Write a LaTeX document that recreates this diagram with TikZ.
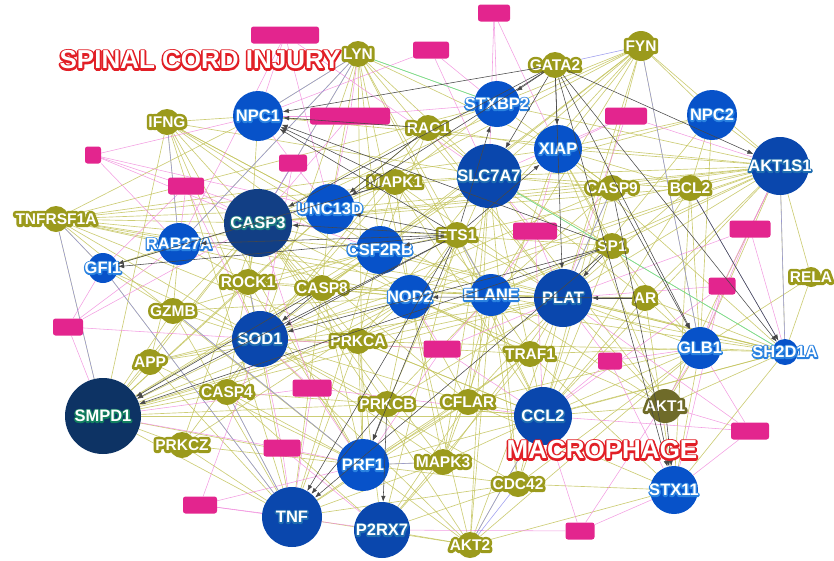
\documentclass[tikz,border=0pt]{standalone}
\usepackage{fontspec}
\setmainfont{Liberation Sans}
\usepackage{tikz}
\usetikzlibrary{arrows.meta}
\pgfdeclarelayer{edges}
\pgfsetlayers{edges,main}

\definecolor{gblue}{HTML}{0752C9}
\definecolor{gmid}{HTML}{0A47AD}
\definecolor{gnavy}{HTML}{123F85}
\definecolor{gdeep}{HTML}{0D3364}
\definecolor{hblue}{HTML}{2A82E0}
\definecolor{hmid}{HTML}{1F6DB0}
\definecolor{hteal}{HTML}{1C7A80}
\definecolor{hgreen}{HTML}{128060}
\definecolor{olv}{HTML}{9B9A1C}
\definecolor{olvdark}{HTML}{6F6B29}
\definecolor{tpink}{HTML}{E3258E}
\definecolor{labred}{HTML}{E11F26}
\definecolor{oline}{HTML}{C4C45E}
\definecolor{pline}{HTML}{F08CDC}
\definecolor{bline}{HTML}{8C8CEB}
\definecolor{gline}{HTML}{6CE39A}
\definecolor{aline}{HTML}{474747}

\newcommand\outl[3]{\makebox[0pt]{\rlap{\special{pdf:code q 2 Tr #1 w 1 j}\textcolor{#2}{#3}\special{pdf:code Q}}\textcolor{white}{#3}}}
\newcommand\glab[2][hblue]{\outl{2.8}{#1}{#2}}
\newcommand\dlab[2][olv]{\outl{5.5}{#1}{#2}}
\newcommand\redlab[1]{\outl{3.6}{labred}{#1}}
\newcommand\genefont{\fontsize{16.5}{18}\selectfont\bfseries}
\newcommand\drugfont{\fontsize{15.5}{17}\selectfont\bfseries}
\newcommand\tagfont{\fontsize{26}{28}\selectfont\bfseries}

\tikzset{
  gene/.style={circle, inner sep=0pt, minimum size=#1, fill=gblue, text=white, font=\genefont},
  drug/.style={circle, inner sep=0pt, minimum size=#1, fill=olv, text=white, font=\drugfont},
  drug/.default=26pt,
  term/.style={rectangle, rounded corners=2.5pt, inner sep=0pt, minimum height=17pt, minimum width=#1, fill=tpink},
  coexp/.style={draw=oline, opacity=.85, line width=.65pt},
  termlink/.style={draw=pline, opacity=.85, line width=.55pt},
  ppi/.style={draw=bline, opacity=.85, line width=.55pt},
  pathw/.style={draw=gline, line width=.6pt},
  regul/.style={draw=aline, line width=.55pt, -{Latex[length=6pt,width=4.5pt]}}
}

\begin{document}
\begin{tikzpicture}[x=1pt,y=-1pt]
\useasboundingbox (0,0) rectangle (834,560);

\node[gene=50pt] (npc1) at (258,116) {\glab{NPC1}};
\node[gene=46pt] (stxbp2) at (497,104) {\glab{STXBP2}};
\node[gene=48pt] (xiap) at (558,149) {\glab{XIAP}};
\node[gene=50pt] (npc2) at (712,115) {\glab{NPC2}};
\node[gene=58pt, fill=gmid] (akts) at (780,166) {\glab[hmid]{AKT1S1}};
\node[gene=64pt, fill=gmid] (slc) at (489,176) {\glab[hmid]{SLC7A7}};
\node[gene=50pt] (unc) at (330,209) {\glab{UNC13D}};
\node[gene=68pt, fill=gnavy] (casp3) at (258,223) {\glab[hteal]{CASP3}};
\node[gene=48pt] (csf) at (380,250) {\glab{CSF2RB}};
\node[gene=42pt] (rab) at (179,244) {\glab{RAB27A}};
\node[gene=30pt] (gfi) at (103,268) {\glab{GFI1}};
\node[gene=44pt] (nod2) at (410,297) {\glab{NOD2}};
\node[gene=42pt] (elane) at (491,295) {\glab{ELANE}};
\node[gene=58pt, fill=gmid] (plat) at (563,298) {\glab[hmid]{PLAT}};
\node[gene=56pt, fill=gmid] (sod1) at (260,339) {\glab[hmid]{SOD1}};
\node[gene=42pt] (glb1) at (700,348) {\glab{GLB1}};
\node[gene=26pt] (sh2) at (785,352) {\glab{SH2D1A}};
\node[gene=76pt, fill=gdeep] (smpd1) at (103,416) {\glab[hgreen]{SMPD1}};
\node[gene=58pt, fill=gmid] (ccl2) at (543,416) {\glab[hmid]{CCL2}};
\node[gene=52pt] (prf1) at (363,465) {\glab{PRF1}};
\node[gene=60pt, fill=gmid] (tnf) at (292,517) {\glab[hmid]{TNF}};
\node[gene=56pt, fill=gmid] (p2rx7) at (382,530) {\glab[hmid]{P2RX7}};
\node[gene=48pt] (stx11) at (674,490) {\glab{STX11}};

\node[drug] (lyn) at (358,54) {\dlab{LYN}};
\node[drug] (gata2) at (555,65) {\dlab{GATA2}};
\node[drug=30pt] (fyn) at (641,46) {\dlab{FYN}};
\node[drug] (ifng) at (167,122) {\dlab{IFNG}};
\node[drug] (rac1) at (428,128) {\dlab{RAC1}};
\node[drug] (mapk1) at (395,182) {\dlab{MAPK1}};
\node[drug] (casp9) at (612,188) {\dlab{CASP9}};
\node[drug] (bcl2) at (690,188) {\dlab{BCL2}};
\node[drug] (tnfr) at (56,219) {\dlab{TNFRSF1A}};
\node[drug] (ets1) at (457,235) {\dlab{ETS1}};
\node[drug] (sp1) at (612,246) {\dlab{SP1}};
\node[drug] (rock1) at (248,282) {\dlab{ROCK1}};
\node[drug] (casp8) at (322,288) {\dlab{CASP8}};
\node[drug] (gzmb) at (173,311) {\dlab{GZMB}};
\node[drug] (ar) at (645,298) {\dlab{AR}};
\node[drug=20pt] (rela) at (811,277) {\dlab{RELA}};
\node[drug] (prkca) at (358,341) {\dlab{PRKCA}};
\node[drug] (app) at (150,362) {\dlab{APP}};
\node[drug] (traf1) at (530,354) {\dlab{TRAF1}};
\node[drug] (casp4) at (227,392) {\dlab{CASP4}};
\node[drug] (prkcb) at (387,404) {\dlab{PRKCB}};
\node[drug] (cflar) at (468,402) {\dlab{CFLAR}};
\node[drug] (prkcz) at (182,445) {\dlab{PRKCZ}};
\node[drug] (mapk3) at (443,462) {\dlab{MAPK3}};
\node[drug] (cdc42) at (518,484) {\dlab{CDC42}};
\node[drug=34pt, fill=olvdark] (akt1) at (665,406) {\dlab[olvdark]{AKT1}};
\node[drug] (akt2) at (470,545) {\dlab{AKT2}};

\node[term=68pt] (t1) at (285,35) {};
\node[term=32pt] (t2) at (494,13) {};
\node[term=36pt] (t3) at (431,50) {};
\node[term=80pt] (t4) at (350,116) {};
\node[term=42pt] (t5) at (626,116) {};
\node[term=16pt] (t6) at (93,155) {};
\node[term=36pt] (t7) at (186,186) {};
\node[term=28pt] (t8) at (293,163) {};
\node[term=44pt] (t9) at (535,231) {};
\node[term=41pt] (t10) at (750,229) {};
\node[term=27pt] (t11) at (722,286) {};
\node[term=30pt] (t12) at (68,327) {};
\node[term=37pt] (t13) at (442,349) {};
\node[term=24pt] (t14) at (610,361) {};
\node[term=39pt] (t15) at (312,388) {};
\node[term=37pt] (t16) at (282,448) {};
\node[term=34pt] (t17) at (200,505) {};
\node[term=38pt] (t18) at (750,431) {};
\node[term=29pt] (t19) at (580,531) {};

\begin{pgfonlayer}{edges}
\foreach \src/\tgts in {
  tnfr/{rab,casp3,unc,csf,nod2,elane,slc,npc1,sod1,plat,gfi,smpd1,xiap,stxbp2,ccl2,prf1},
  lyn/{npc1,casp3,unc,slc,stxbp2,csf,nod2,elane,sod1,rab,plat,xiap,prf1,ccl2},
  fyn/{stxbp2,xiap,slc,npc2,akts,plat,elane,nod2,csf,unc,casp3,glb1,ccl2,sod1},
  ifng/{npc1,casp3,rab,unc,sod1,csf,nod2,smpd1,tnf,prf1,elane,slc},
  rac1/{npc1,stxbp2,slc,casp3,unc,csf,xiap,plat,sod1},
  mapk1/{casp3,unc,slc,stxbp2,plat,elane,nod2,sod1,tnf,ccl2},
  casp9/{xiap,plat,slc,stxbp2,elane,akts,ccl2,sod1,casp3},
  bcl2/{akts,npc2,xiap,plat,glb1,slc,casp3,ccl2,stx11},
  ets1/{plat,elane,nod2,ccl2,p2rx7},
  sp1/{xiap,slc,elane,ccl2,glb1,akts,casp3},
  rock1/{casp3,sod1,rab,unc,csf,nod2,smpd1,tnf,prf1,plat,npc1},
  casp8/{casp3,unc,csf,nod2,elane,plat,tnf,prf1,slc},
  gzmb/{rab,casp3,sod1,smpd1,tnf,prf1,csf,nod2,gfi},
  ar/{glb1,akts,xiap,ccl2,elane,slc,sh2,stx11},
  rela/{akts,sh2,glb1},
  prkca/{sod1,casp3,nod2,csf,plat,ccl2,prf1,tnf,p2rx7,smpd1,elane,slc},
  app/{smpd1,sod1,casp3,rab,tnf,prf1,nod2,plat},
  traf1/{plat,elane,nod2,ccl2,glb1,sod1,casp3,slc,prf1,p2rx7,tnf,stx11},
  casp4/{smpd1,sod1,tnf,prf1,casp3,nod2,ccl2,p2rx7},
  prkcb/{sod1,casp3,nod2,elane,plat,ccl2,slc,smpd1},
  cflar/{ccl2,plat,elane,nod2,prf1,p2rx7,tnf,sod1,casp3,slc,glb1,stx11},
  prkcz/{smpd1,tnf,sod1,prf1,casp3,nod2},
  mapk3/{p2rx7,prf1,tnf,ccl2,plat,elane,nod2,sod1,casp3,slc,xiap},
  cdc42/{ccl2,plat,p2rx7,tnf,prf1,glb1,stx11,elane,sod1,slc},
  akt1/{glb1,ccl2,plat,akts,sh2,xiap,elane,nod2,slc},
  akt2/{tnf,p2rx7,prf1,ccl2,plat,elane,nod2,sod1,casp3,stx11,glb1,slc},
  akts/{slc,xiap,stxbp2,plat,elane,nod2,csf,unc,casp3,glb1,sh2,ccl2,sod1,npc1},
  sh2/{glb1,plat,ccl2,elane,nod2,csf,sod1,slc,xiap,casp3,prf1,stx11},
  smpd1/{casp3,sod1,nod2,csf,prf1,tnf,plat,elane,ccl2,unc,slc},
  gfi/{rab,casp3,sod1,tnf},
  glb1/{plat,ccl2,stx11},
  npc2/{akts,xiap,plat,glb1,slc}}
  \foreach \tgt in \tgts \draw[coexp] (\src) -- (\tgt);

\foreach \src/\tgts in {
  t1/{npc1,rab,unc,slc}, t2/{stxbp2,slc,xiap}, t3/{stxbp2,slc,npc1},
  t4/{npc1,casp3,unc,stxbp2,lyn}, t5/{xiap,plat,akts,slc},
  t6/{npc1,casp3,unc,csf,rab}, t7/{casp3,rab,sod1,gfi}, t8/{npc1,casp3,unc,sod1},
  t9/{slc,xiap,plat,elane,ccl2}, t10/{akts,glb1,sh2,plat}, t11/{glb1,plat,akts,stx11,ccl2},
  t12/{rab,gfi,sod1,casp3,smpd1}, t13/{nod2,elane,ccl2,sod1,plat,prf1},
  t14/{plat,ccl2,stx11,glb1}, t15/{sod1,casp3,prf1,tnf,smpd1,ccl2},
  t16/{tnf,prf1,sod1,p2rx7,smpd1}, t17/{tnf,prf1,p2rx7,sod1},
  t18/{stx11,ccl2,glb1,plat,akt1}, t19/{stx11,ccl2,p2rx7,glb1}}
  \foreach \tgt in \tgts \draw[termlink] (\src) -- (\tgt);

\foreach \src/\tgt in {lyn/npc1,lyn/rab,lyn/casp3,fyn/gata2,fyn/glb1,tnfr/gfi,tnfr/smpd1,
  ifng/rab,gfi/tnf,casp4/tnf,akt2/ccl2,cdc42/akt2,akts/sh2,bcl2/sh2,casp9/plat,
  ets1/elane,mapk3/prf1,rock1/sod1,mapk1/casp3,gzmb/prf1}
  \draw[ppi] (\src) -- (\tgt);
\draw[pathw] (lyn) -- (stxbp2);
\draw[pathw] (slc) -- (sh2);
\end{pgfonlayer}

\foreach \src/\tgts in {
  gata2/{stxbp2,xiap,npc1,akts,glb1,slc,plat,stx11,sh2,casp3,unc},
  ets1/{csf,casp3,rab,gfi,npc1,sod1,smpd1,stxbp2,xiap,unc,tnf,prf1},
  sp1/{plat,sod1,smpd1,npc1,tnf}, ar/{plat,nod2}, casp9/{glb1,stx11},
  bcl2/{sh2}, akt1/{stx11}, rac1/{unc,npc1}, prkcb/{prf1,p2rx7,tnf},
  casp8/{sod1,smpd1}, mapk1/{npc1,gfi}}
  \foreach \tgt in \tgts \draw[regul] (\src) -- (\tgt);

\node[text=white, font=\tagfont] (sci) at (200,60) {\redlab{SPINAL CORD INJURY}};
\node[text=white, font=\tagfont] (mac) at (602,450) {\redlab{MACROPHAGE}};
\end{tikzpicture}
\end{document}
